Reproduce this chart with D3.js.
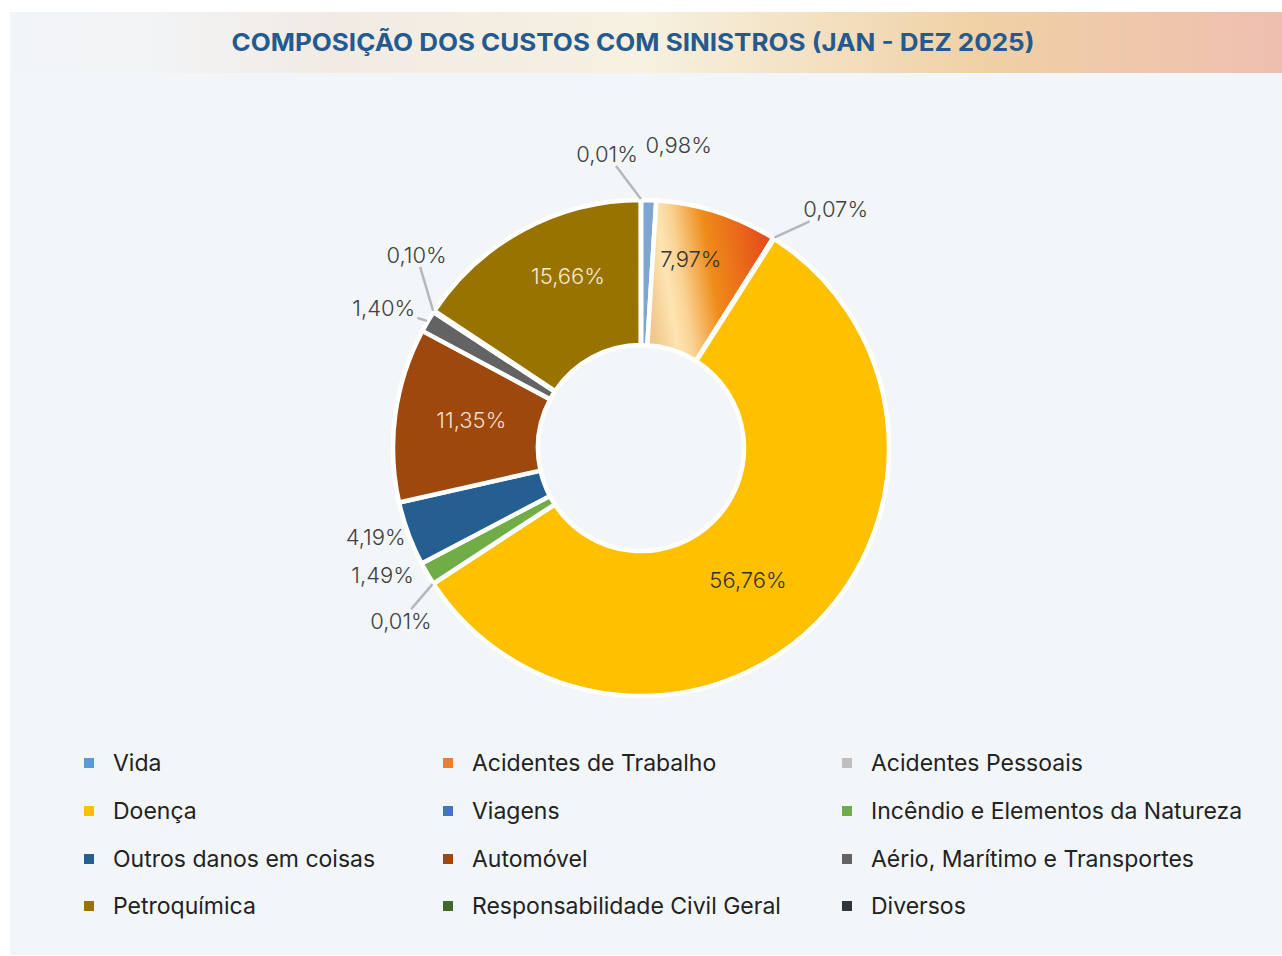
<!DOCTYPE html>
<html>
<head>
<meta charset="utf-8">
<script src="https://cdn.jsdelivr.net/npm/d3@7"></script>
<style>
  body { margin: 0; background: #ffffff; }
  svg { display: block; font-family: Inter, "Noto Sans", sans-serif; }
</style>
</head>
<body>
<div id="chart"></div>
<script>
// Chart data (legend order)
const categories = [
    'Vida', 'Acidentes de Trabalho', 'Acidentes Pessoais',
    'Doença', 'Viagens', 'Incêndio e Elementos da Natureza',
    'Outros danos em coisas', 'Automóvel', 'Aério, Marítimo e Transportes',
    'Petroquímica', 'Responsabilidade Civil Geral', 'Diversos'
];
const values = [0.98, 7.97, 0.07, 56.76, 0.01, 1.49, 4.19, 11.35, 1.40, 15.66, 0.10, 0.01];
const colors = [
    '#5b9bd5', '#ed7d31', '#bfbfbf',
    '#ffc000', '#4472c4', '#70ad47',
    '#255e91', '#9e480e', '#636363',
    '#997300', '#43682b', '#2f3640'
];

// order the slices appear around the ring (clockwise from 12 o'clock)
const pieOrder = [
    'Vida', 'Acidentes de Trabalho', 'Acidentes Pessoais', 'Doença', 'Viagens',
    'Incêndio e Elementos da Natureza', 'Outros danos em coisas', 'Automóvel',
    'Aério, Marítimo e Transportes', 'Responsabilidade Civil Geral', 'Petroquímica', 'Diversos'
];

// label placement: [angle in degrees from 12 o'clock, distance from centre], leader line?
const labelPlace = {
    'Diversos': [-6.6, 296, true],
    'Vida': [7.1, 305, false],
    'Acidentes de Trabalho': [14.8, 195, false],
    'Acidentes Pessoais': [39.2, 308, true],
    'Doença': [141, 170, false],
    'Viagens': [234.2, 296, true],
    'Incêndio e Elementos da Natureza': [243.8, 288, false],
    'Outros danos em coisas': [251.4, 280, false],
    'Automóvel': [279.4, 172, false],
    'Aério, Marítimo e Transportes': [298.6, 293, true],
    'Responsabilidade Civil Geral': [310.7, 296, true],
    'Petroquímica': [337, 187, false]
};
const labelColor = {
    'Automóvel': '#f3dfcf',
    'Petroquímica': '#f5ebcf',
    'Acidentes de Trabalho': '#333333',
    'Doença': '#333333'
};

const width = 1282;
const height = 956;
const cx = 641, cy = 448;
const outerR = 248, innerR = 103;

const svg = d3.select('#chart')
    .append('svg')
    .attr('width', width)
    .attr('height', height);

const defs = svg.append('defs');

// title bar gradient
const tg = defs.append('linearGradient')
    .attr('id', 'titleGrad')
    .attr('x1', '0%').attr('x2', '100%');
[[0, '#f2f5f8'], [0.1, '#f2f4f6'], [0.25, '#f2ebe5'], [0.5, '#f6f1e0'], [0.76, '#f0d1a5'], [1, '#eebfb0']]
    .forEach(([o, c]) => tg.append('stop').attr('offset', o).attr('stop-color', c));

// Acidentes de Trabalho slice gradient (coords relative to donut centre)
const ag = defs.append('linearGradient')
    .attr('id', 'atGrad')
    .attr('gradientUnits', 'userSpaceOnUse')
    .attr('x1', 8).attr('y1', -140)
    .attr('x2', 130).attr('y2', -160);
[[0, '#f2c68c'], [0.18, '#fde5b2'], [0.3, '#fad294'], [0.55, '#ef8b18'], [0.8, '#ea6a1a'], [1, '#e4501b']]
    .forEach(([o, c]) => ag.append('stop').attr('offset', o).attr('stop-color', c));

// Background
svg.append('rect')
    .attr('x', 10).attr('y', 12)
    .attr('width', width - 10).attr('height', 943)
    .attr('fill', '#f2f6f9');

svg.append('rect')
    .attr('x', 10).attr('y', 12)
    .attr('width', width - 10).attr('height', 61)
    .attr('fill', 'url(#titleGrad)');

svg.append('text')
    .attr('x', 633).attr('y', 51)
    .attr('text-anchor', 'middle')
    .attr('font-size', 24)
    .attr('font-weight', 700)
    .attr('fill', '#245a8e')
    .attr('textLength', 803)
    .attr('lengthAdjust', 'spacingAndGlyphs')
    .text('COMPOSIÇÃO DOS CUSTOS COM SINISTROS (JAN - DEZ 2025)');

// Donut
const valueOf = name => values[categories.indexOf(name)];
const colorOf = name => colors[categories.indexOf(name)];

const pie = d3.pie()
    .sort(null)
    .value(d => valueOf(d));

const arcs = pie(pieOrder);
const arc = d3.arc().innerRadius(innerR).outerRadius(outerR);

const g = svg.append('g').attr('transform', `translate(${cx},${cy})`);

g.selectAll('.slice')
    .data(arcs)
    .enter()
    .append('path')
    .attr('class', 'slice')
    .attr('d', arc)
    .attr('fill', d => {
        if (d.data === 'Acidentes de Trabalho') return 'url(#atGrad)';
        if (d.data === 'Vida') return '#7ea6d0';
        return colorOf(d.data);
    })
    .attr('stroke', '#ffffff')
    .attr('stroke-width', 4.5)
    .attr('stroke-linejoin', 'miter');

// Labels
const fmt = v => d3.format('.2f')(v).replace('.', ',') + '%';
const polar = (deg, r) => {
    const a = deg * Math.PI / 180;
    return [r * Math.sin(a), -r * Math.cos(a)];
};

const labelG = g.append('g');
const leaderG = g.insert('g', ':scope > g');

arcs.forEach(d => {
    const place = labelPlace[d.data];
    const [lx, ly] = polar(place[0], place[1]);
    const t = labelG.append('text')
        .attr('x', lx).attr('y', ly)
        .attr('text-anchor', 'middle')
        .attr('dominant-baseline', 'central')
        .attr('font-size', 22)
        .attr('font-weight', 300)
        .attr('fill', labelColor[d.data] || '#404040')
        .text(fmt(valueOf(d.data)));

    if (place[2]) {
        const mid = (d.startAngle + d.endAngle) / 2 * 180 / Math.PI;
        const [ex, ey] = polar(mid, outerR + 1);
        const bb = t.node().getBBox();
        const hw = bb.width / 2 + 2, hh = bb.height / 2 - 1;
        const dx = ex - lx, dy = ey - ly;
        const s = Math.min(Math.abs(dx) > 0 ? hw / Math.abs(dx) : Infinity,
                           Math.abs(dy) > 0 ? hh / Math.abs(dy) : Infinity);
        leaderG.append('line')
            .attr('x1', lx + dx * s).attr('y1', ly + dy * s)
            .attr('x2', ex).attr('y2', ey)
            .attr('stroke', '#b4b8bc')
            .attr('stroke-width', 2.5);
    }
});

// Legend
const colX = [84, 443, 842];
const rowY = [763, 811, 859, 906];

const legend = svg.append('g')
    .selectAll('.item')
    .data(categories)
    .enter()
    .append('g')
    .attr('class', 'item')
    .attr('transform', (d, i) => `translate(${colX[i % 3]},${rowY[Math.floor(i / 3)]})`);

legend.append('rect')
    .attr('x', 0).attr('y', -5)
    .attr('width', 10).attr('height', 10)
    .attr('fill', (d, i) => colors[i]);

legend.append('text')
    .attr('x', 29).attr('y', 0)
    .attr('dominant-baseline', 'central')
    .attr('font-size', 23)
    .attr('fill', '#222222')
    .text(d => d);
</script>
</body>
</html>
